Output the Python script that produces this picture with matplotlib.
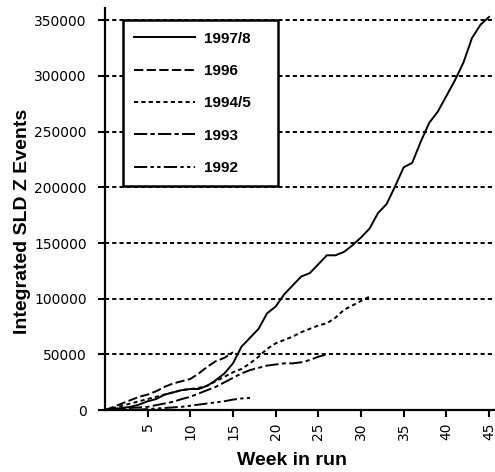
import matplotlib
matplotlib.use("Agg")
import matplotlib.pyplot as plt
import numpy as np

plt.rcParams["lines.scale_dashes"] = False

# Data (integrated Z events per week of run)
weeks_9798 = np.arange(0, 46)
z_9798 = [0, 1000, 2000, 3000, 5000, 8000, 10000, 14000, 16000, 18000,
          19000, 19000, 22000, 27000, 33000, 42000, 57000, 65000, 73000, 87000,
          93000, 104000, 112000, 120000, 123000, 131000, 139000, 139000, 142000, 148000,
          155000, 163000, 177000, 185000, 201000, 218000, 222000, 241000, 258000, 268000,
          282000, 296000, 312000, 334000, 346000, 353000]

weeks_96 = np.arange(0, 16)
z_96 = [0, 3000, 6000, 9000, 12000, 14000, 17000, 21000, 24000, 26000,
        28000, 33000, 39000, 44000, 47000, 52000]

weeks_945 = np.arange(0, 32)
z_945 = [0, 2000, 4000, 6000, 8000, 10000, 12000, 14000, 16000, 18000,
         19000, 20000, 22000, 26000, 30000, 34000, 37000, 42000, 48000, 55000,
         60000, 63000, 66000, 70000, 73000, 76000, 78000, 83000, 90000, 94000,
         98000, 102000]

weeks_93 = np.arange(0, 27)
z_93 = [0, 1000, 1500, 2000, 2500, 3000, 4500, 6000, 7500, 10000,
        12000, 15000, 18000, 21000, 25000, 29000, 33000, 36000, 38000, 40000,
        41000, 42000, 42000, 43000, 45000, 48000, 50000]

weeks_92 = np.arange(0, 18)
z_92 = [0, 0, 0, 0, 500, 1000, 1500, 2000, 2500, 3000,
        4000, 5000, 6000, 7000, 8000, 9500, 10500, 11000]

xticks = [5, 10, 15, 20, 25, 30, 35, 40, 45]
yticks = [0, 50000, 100000, 150000, 200000, 250000, 300000, 350000]

fig = plt.figure(figsize=(4.95, 4.72), dpi=100)
ax = fig.add_axes([0.212, 0.131, 0.788, 0.852])

# dashed horizontal grid
for yv in yticks[1:]:
    ax.axhline(yv, color="black", lw=1.4, dashes=(3, 2.2), zorder=1)

lw = 1.4
ax.plot(weeks_9798, z_9798, color="black", lw=lw, label="1997/8", zorder=3)
ax.plot(weeks_96, z_96, color="black", lw=lw, dashes=(6.7, 2.4), label="1996", zorder=3)
ax.plot(weeks_945, z_945, color="black", lw=lw, dashes=(3, 2.3), label="1994/5", zorder=3)
ax.plot(weeks_93, z_93, color="black", lw=lw, dashes=(9.5, 2.4, 3, 2.4), label="1993", zorder=3)
ax.plot(weeks_92, z_92, color="black", lw=lw, dashes=(9.5, 2.4, 2.4, 2.4, 2.4, 2.4), label="1992", zorder=3)

ax.set_xlim(0, 45.7)
ax.set_ylim(0, 361000)
ax.set_xticks(xticks)
ax.set_xticklabels([str(t) for t in xticks], rotation=90)
ax.set_yticks(yticks)
ax.set_yticklabels([str(t) for t in yticks])
ax.tick_params(axis="both", direction="out", length=5, width=1.5, labelsize=10, colors="black")
ax.tick_params(axis="y", pad=8)
ax.tick_params(axis="x", pad=4)

for s in ["top", "right"]:
    ax.spines[s].set_visible(False)
for s in ["left", "bottom"]:
    ax.spines[s].set_linewidth(1.6)

label_font = ["DejaVu Sans Condensed", "Liberation Sans Narrow", "Liberation Sans", "DejaVu Sans"]
ax.set_ylabel("Integrated SLD Z Events", fontsize=14, fontweight="bold", family=label_font)
ax.yaxis.set_label_coords(-0.19, 0.47)
ax.set_xlabel("Week in run", fontsize=14, fontweight="bold", family=label_font)
ax.xaxis.set_label_coords(0.48, -0.105)

leg = ax.legend(loc="upper left", bbox_to_anchor=(0.046, 0.5, 0.397, 0.47), mode="expand",
                frameon=True, fancybox=False,
                edgecolor="black", facecolor="white", framealpha=1.0,
                prop={"family": label_font, "weight": "bold", "size": 11},
                handlelength=4.0, handletextpad=0.55, labelspacing=1.2,
                borderpad=0.75, borderaxespad=0)
leg.get_frame().set_linewidth(1.8)
leg.set_zorder(5)

fig.savefig("out.png", dpi=100)
